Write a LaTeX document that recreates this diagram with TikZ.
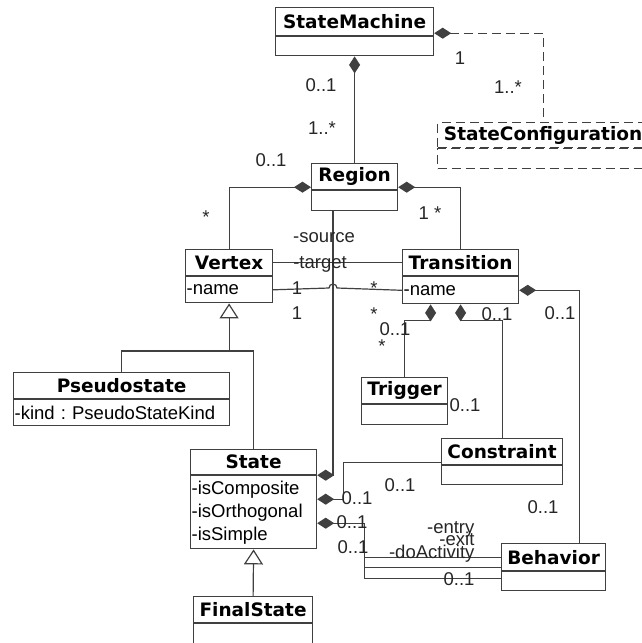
\documentclass[tikz,border=0pt]{standalone}
\usepackage{fontspec}
\setmainfont{Liberation Sans}
\newfontfamily\dejavu{DejaVu Sans}
\usetikzlibrary{arrows.meta}
\newcommand{\clsfont}{\dejavu\bfseries\fontsize{18.5}{22}\selectfont}
\newcommand{\attfont}{\fontsize{18.5}{23}\selectfont}
\frenchspacing

\begin{document}
\begin{tikzpicture}[
    x=1pt, y=-1pt, line width=1.2pt, draw=black!75,
    title/.style={draw, anchor=north west, inner sep=0pt, minimum height=26pt, font=\clsfont},
    body/.style={draw, anchor=north west, inner xsep=1pt, inner ysep=0pt, align=left, font=\attfont},
    lbl/.style={inner sep=0pt, text height=13pt, text depth=0pt, font=\attfont, text=black!85},
    cfg/.style={dash pattern=on 9pt off 5pt},
    comp/.style={{Diamond[length=17pt,width=11pt]}-},
    gen/.style={-{Triangle[open,length=15pt,width=19pt]}},
  ]
  \useasboundingbox (0,0) rectangle (641,643);

  % classes
  \node[title, minimum width=158pt, minimum height=28pt] (sm) at (275,7) {StateMachine};
  \node[body, text width=156pt, minimum height=19pt] (smb) at (sm.south west) {};
  \node[title, cfg, minimum width=211pt, minimum height=25pt] (sc) at (437,122) {StateConfiguration};
  \node[body, cfg, text width=209pt, minimum height=20pt] (scb) at (sc.south west) {};
  \node[title, minimum width=86pt] (region) at (311,163) {Region};
  \node[body, text width=84pt, minimum height=20pt] (regionb) at (region.south west) {};
  \node[title, minimum width=87pt] (vertex) at (185,249) {Vertex};
  \node[body, text width=85pt, minimum height=26pt] (vertexb) at (vertex.south west) {-name};
  \node[title, minimum width=116pt] (trans) at (402,249) {Transition};
  \node[body, text width=114pt, minimum height=27pt] (transb) at (trans.south west) {-name};
  \node[title, minimum width=216pt] (pseudo) at (13,372) {Pseudostate};
  \node[body, text width=214pt, minimum height=26pt] (pseudob) at (pseudo.south west) {-kind : PseudoStateKind};
  \node[title, minimum width=86pt] (trigger) at (361,377) {Trigger};
  \node[body, text width=84pt, minimum height=20pt] (triggerb) at (trigger.south west) {};
  \node[title, minimum width=121pt] (constraint) at (441,438) {Constraint};
  \node[body, text width=119pt, minimum height=19pt] (constraintb) at (constraint.south west) {};
  \node[title, minimum width=126pt, minimum height=25pt] (state) at (190,449) {State};
  \node[body, text width=124pt, minimum height=73pt] (stateb) at (state.south west) {-isComposite\\-isOrthogonal\\-isSimple};
  \node[title, minimum width=104pt, minimum height=27pt] (behavior) at (501,543) {Behavior};
  \node[body, text width=102pt, minimum height=19pt] (behaviorb) at (behavior.south west) {};
  \node[title, minimum width=119pt] (final) at (193,596) {FinalState};
  \node[body, text width=117pt, minimum height=30pt] (finalb) at (final.south west) {};

  % compositions
  \draw[comp] (smb.south) -- (region.north);
  \draw[comp, cfg] ([yshift=3pt]smb.north east) -| (sc.north);
  \draw[comp] ([yshift=3pt]regionb.north west) -| (vertex.north);
  \draw[comp] ([yshift=3pt]regionb.north east) -| (trans.north);
  \coordinate (hop) at (333,288);
  \draw[comp] (state.south east) -| (hop) -- (regionb.south -| hop);
  \draw (vertex.east) -- (trans.west);
  \draw (vertexb.east) -- ([xshift=-4pt]hop) arc[start angle=180, end angle=0, radius=4pt] -- (transb.west);
  \draw[comp] ([xshift=-30pt]transb.south) -- ++(0,16) -| (trigger.north);
  \draw[comp] (transb.south) -- ++(0,16) -| (constraint.north);
  \draw[comp] (transb.east) -| ([xshift=26pt]behavior.north);
  \draw[comp] ([yshift=-24pt]stateb.north east) -- ++(26,0) |- ([yshift=3pt]constraintb.north west);
  \draw[comp] ([yshift=-48pt]stateb.north east) -- ++(47,0) |- (behavior.west);
  \draw ([yshift=-48pt]stateb.north east) ++(47,0) |- ([yshift=4pt]behaviorb.north west);
  \draw ([yshift=-48pt]stateb.north east) ++(47,0) |- ([yshift=-7pt]behaviorb.north west);

  % generalizations
  \coordinate (vjoin) at (vertexb.south |- 0,351);
  \draw[gen] (vjoin) -- (vertexb.south);
  \draw (pseudo.north) |- (vjoin) -| (state.north);
  \draw[gen] (final.north) -- (stateb.south);

  % multiplicities and roles
  \node[lbl] (smlo) at (321,85) {0..1};
  \node[lbl] (smhi) at (322,128) {1..*};
  \node[lbl] (sclo) at (460,58) {1};
  \node[lbl] (schi) at (508,87) {1..*};
  \node[lbl] (rvlo) at (271,160) {0..1};
  \node[lbl] (rvhi) at (206,217) {*};
  \node[lbl] (rthi) at (430,213) {1 *};
  \node[lbl] (src) at (324,236) {-source};
  \node[lbl] (tgt) at (320,262) {-target};
  \node[lbl] (srclo) at (297,288) {1};
  \node[lbl] (srchi) at (374,288) {*};
  \node[lbl] (tgtlo) at (297,313) {1};
  \node[lbl] (tgthi) at (374,314) {*};
  \node[lbl] (trglo) at (395,329) {0..1};
  \node[lbl] (trghi) at (382,346) {*};
  \node[lbl] (cnslo) at (497,314) {0..1};
  \node[lbl] (bhvlo) at (560,313) {0..1};
  \node[lbl] (trgb) at (465,405) {0..1};
  \node[lbl] (cns1) at (357,498) {0..1};
  \node[lbl] (cns2) at (400,485) {0..1};
  \node[lbl] (bhv2) at (543,507) {0..1};
  \node[lbl] (act1) at (352,522) {0..1};
  \node[lbl] (act2) at (353,547) {0..1};
  \node[lbl, anchor=east] (entry) at (475,527) {-entry};
  \node[lbl, anchor=east] (exitr) at (475,539) {-exit};
  \node[lbl, anchor=east] (doact) at (475,552) {-doActivity};
  \node[lbl] (act3) at (459,579) {0..1};
\end{tikzpicture}
\end{document}
